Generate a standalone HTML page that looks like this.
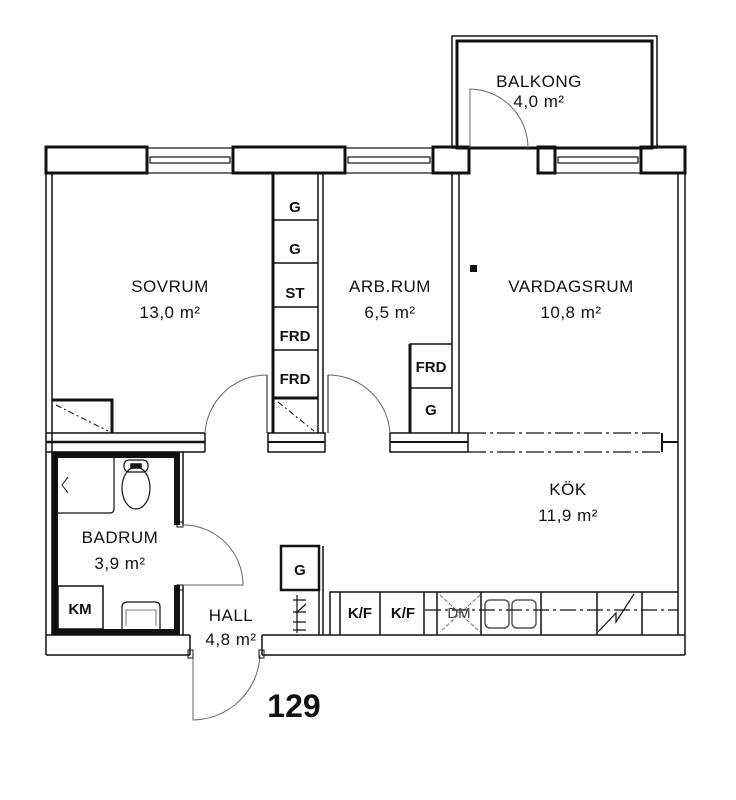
<!DOCTYPE html>
<html><head><meta charset="utf-8"><style>
html,body{margin:0;padding:0;background:#fff;}
svg{display:block;}
text{font-family:"Liberation Sans",sans-serif;fill:#111;}
.rl{font-size:17px;font-weight:normal;letter-spacing:0.5px;}
.cl{font-size:15px;font-weight:bold;}
</style></head><body>
<svg width="736" height="800" viewBox="0 0 736 800" xmlns="http://www.w3.org/2000/svg">
<g fill="none" stroke="#111" stroke-width="1.5">
<rect x="452" y="36" width="205" height="112" stroke-width="1.5"/>
<rect x="457" y="41" width="195" height="107" stroke-width="3"/>
<rect x="46" y="147" width="101" height="26" stroke-width="3"/>
<rect x="233" y="147" width="112" height="26" stroke-width="3"/>
<rect x="433" y="147" width="36" height="26" stroke-width="3"/>
<rect x="538" y="147" width="17" height="26" stroke-width="3"/>
<rect x="641" y="147" width="44" height="26" stroke-width="3"/>
<g stroke-width="1.2">
<rect x="147" y="148" width="86" height="25"/>
<rect x="150" y="157" width="80" height="6"/>
<rect x="345" y="148" width="88" height="25"/>
<rect x="348" y="157" width="82" height="6"/>
<rect x="555" y="148" width="86" height="25"/>
<rect x="558" y="157" width="80" height="6"/>
<line x1="469" y1="148" x2="538" y2="148"/>
</g>
<path d="M470 148 V89 A59 59 0 0 1 528 148" stroke="#666" stroke-width="1"/>
<line x1="46" y1="173" x2="46" y2="655"/>
<line x1="52" y1="173" x2="52" y2="635"/>
<line x1="685" y1="173" x2="685" y2="655"/>
<line x1="678" y1="173" x2="678" y2="635"/>
<path d="M46 635 H190 M46 655 H190 M190 635 V655"/>
<path d="M262 635 H685 M262 655 H685 M262 635 V655"/>
<path d="M193 655 V720 A68 68 0 0 0 260 655" stroke="#666" stroke-width="1"/>
<rect x="188" y="650" width="5" height="8" stroke-width="1"/>
<rect x="259" y="650" width="5" height="8" stroke-width="1"/>
<path d="M46 433 H205 M46 452 H205 M205 433 V452"/>
<line x1="46" y1="442" x2="205" y2="442" stroke-width="2.5"/>
<path d="M268 433 H325 V452 H268 Z"/>
<line x1="268" y1="442" x2="325" y2="442" stroke-width="2"/>
<path d="M390 433 H468 V452 H390 Z"/>
<line x1="390" y1="442" x2="468" y2="442" stroke-width="2"/>
<g stroke-dasharray="18 4 3 4" stroke-width="1.2">
<line x1="468" y1="433" x2="662" y2="433"/>
<line x1="468" y1="452" x2="662" y2="452"/>
</g>
<path d="M662 433 V452 M662 442 H678" stroke-width="2"/>
<path d="M205 433 A62 62 0 0 1 267 375" stroke="#666" stroke-width="1"/>
<line x1="267" y1="375" x2="267" y2="433" stroke-width="1"/>
<path d="M390 433 A62 62 0 0 0 328 375" stroke="#666" stroke-width="1"/>
<line x1="328" y1="375" x2="328" y2="433" stroke-width="1"/>
<path d="M52 400 H112 V433" stroke-width="3"/>
<line x1="56" y1="405" x2="108" y2="431" stroke-dasharray="6 3 2 3" stroke-width="1"/>
<line x1="273" y1="173" x2="273" y2="433" stroke-width="3"/>
<line x1="318" y1="173" x2="318" y2="433"/>
<line x1="323" y1="173" x2="323" y2="433"/>
<path d="M273 220 H318 M273 263 H318 M273 307 H318 M273 350 H318"/>
<line x1="273" y1="398" x2="318" y2="398" stroke-width="3"/>
<line x1="278" y1="402" x2="314" y2="431" stroke-dasharray="6 3 2 3" stroke-width="1"/>
<line x1="452" y1="173" x2="452" y2="433"/>
<line x1="459" y1="173" x2="459" y2="433"/>
<path d="M410 433 V344 H452 M410 388 H452" />
<line x1="410" y1="344" x2="410" y2="433" stroke-width="3"/>
<!-- bathroom -->
<path d="M177 525 V455 H55 V632 H177 V585" stroke-width="6"/>
<line x1="183" y1="452" x2="183" y2="525"/>
<line x1="183" y1="585" x2="183" y2="635"/>
<rect x="177" y="522" width="6" height="5" stroke-width="1"/>
<rect x="177" y="585" width="6" height="5" stroke-width="1"/>
<path d="M183 525 A60 60 0 0 1 243 585 H183" stroke="#666" stroke-width="1"/>
<path d="M58 513 H110 Q114 513 114 509 V458" stroke-width="1.2"/>
<path d="M68 477 L62 485 L68 493" stroke-width="1"/>
<rect x="124" y="460" width="24" height="12" rx="5" stroke-width="1.2"/>
<rect x="131" y="464" width="10" height="4" fill="#111"/>
<ellipse cx="136" cy="488" rx="14" ry="21" stroke-width="1.2"/>
<rect x="58" y="586" width="45" height="43" stroke-width="1.5"/>
<path d="M122 629 V607 Q122 602 128 602 H155 Q160 602 160 607 V629" stroke-width="1.2"/>
<path d="M126 626 V610 H156 V626" stroke="#777" stroke-width="1"/>
<rect x="281" y="546" width="38" height="44" stroke-width="2.5"/>
<line x1="323" y1="546" x2="323" y2="635"/>
<line x1="319" y1="590" x2="319" y2="635"/>
<path d="M297 595 V633 M293 600 H306 M293 612 H306 M293 622 H306 M293 630 H306 M296 613 L306 604" stroke-width="1.2"/>
<path d="M330 635 V592 H678" stroke-width="1.5"/>
<path d="M340 592 V635 M380 592 V635 M424 592 V635 M437 592 V635 M481 592 V635 M541 592 V635 M597 592 V635 M642 592 V635"/>
<line x1="440" y1="595" x2="480" y2="632" stroke="#777" stroke-width="1" stroke-dasharray="4 2"/>
<line x1="480" y1="595" x2="440" y2="632" stroke="#777" stroke-width="1" stroke-dasharray="4 2"/>
<rect x="485" y="600" width="24" height="28" rx="5" stroke="#555" stroke-width="1.5"/>
<rect x="512" y="600" width="24" height="28" rx="5" stroke="#555" stroke-width="1.5"/>
<line x1="425" y1="610" x2="678" y2="610" stroke-dasharray="16 4 3 4" stroke-width="1.2"/>
<path d="M598 632 L616 613 V622 L634 594" stroke-width="1.2"/>
</g>
<rect x="470" y="265" width="7" height="7" fill="#111"/>
<text class="rl" x="539" y="87" text-anchor="middle">BALKONG</text>
<text class="rl" x="539" y="107" text-anchor="middle">4,0 m²</text>
<text class="rl" x="170" y="292" text-anchor="middle">SOVRUM</text>
<text class="rl" x="170" y="318" text-anchor="middle">13,0 m²</text>
<text class="rl" x="390" y="292" text-anchor="middle">ARB.RUM</text>
<text class="rl" x="390" y="318" text-anchor="middle">6,5 m²</text>
<text class="rl" x="571" y="292" text-anchor="middle">VARDAGSRUM</text>
<text class="rl" x="571" y="318" text-anchor="middle">10,8 m²</text>
<text class="rl" x="568" y="495" text-anchor="middle">KÖK</text>
<text class="rl" x="568" y="521" text-anchor="middle">11,9 m²</text>
<text class="rl" x="120" y="543" text-anchor="middle">BADRUM</text>
<text class="rl" x="120" y="569" text-anchor="middle">3,9 m²</text>
<text class="rl" x="231" y="621" text-anchor="middle">HALL</text>
<text class="rl" x="231" y="645" text-anchor="middle">4,8 m²</text>
<text class="cl" x="295" y="212" text-anchor="middle">G</text>
<text class="cl" x="295" y="254" text-anchor="middle">G</text>
<text class="cl" x="295" y="298" text-anchor="middle">ST</text>
<text class="cl" x="295" y="341" text-anchor="middle">FRD</text>
<text class="cl" x="295" y="384" text-anchor="middle">FRD</text>
<text class="cl" x="431" y="372" text-anchor="middle">FRD</text>
<text class="cl" x="431" y="415" text-anchor="middle">G</text>
<text class="cl" x="300" y="575" text-anchor="middle">G</text>
<text class="cl" x="80" y="614" text-anchor="middle">KM</text>
<text class="cl" x="360" y="618" text-anchor="middle">K/F</text>
<text class="cl" x="403" y="618" text-anchor="middle">K/F</text>
<text class="cl" x="459" y="618" text-anchor="middle" style="font-weight:normal;fill:#444">DM</text>
<text x="294" y="717" text-anchor="middle" style="font-size:32px;font-weight:bold">129</text>
</svg>
</body></html>
